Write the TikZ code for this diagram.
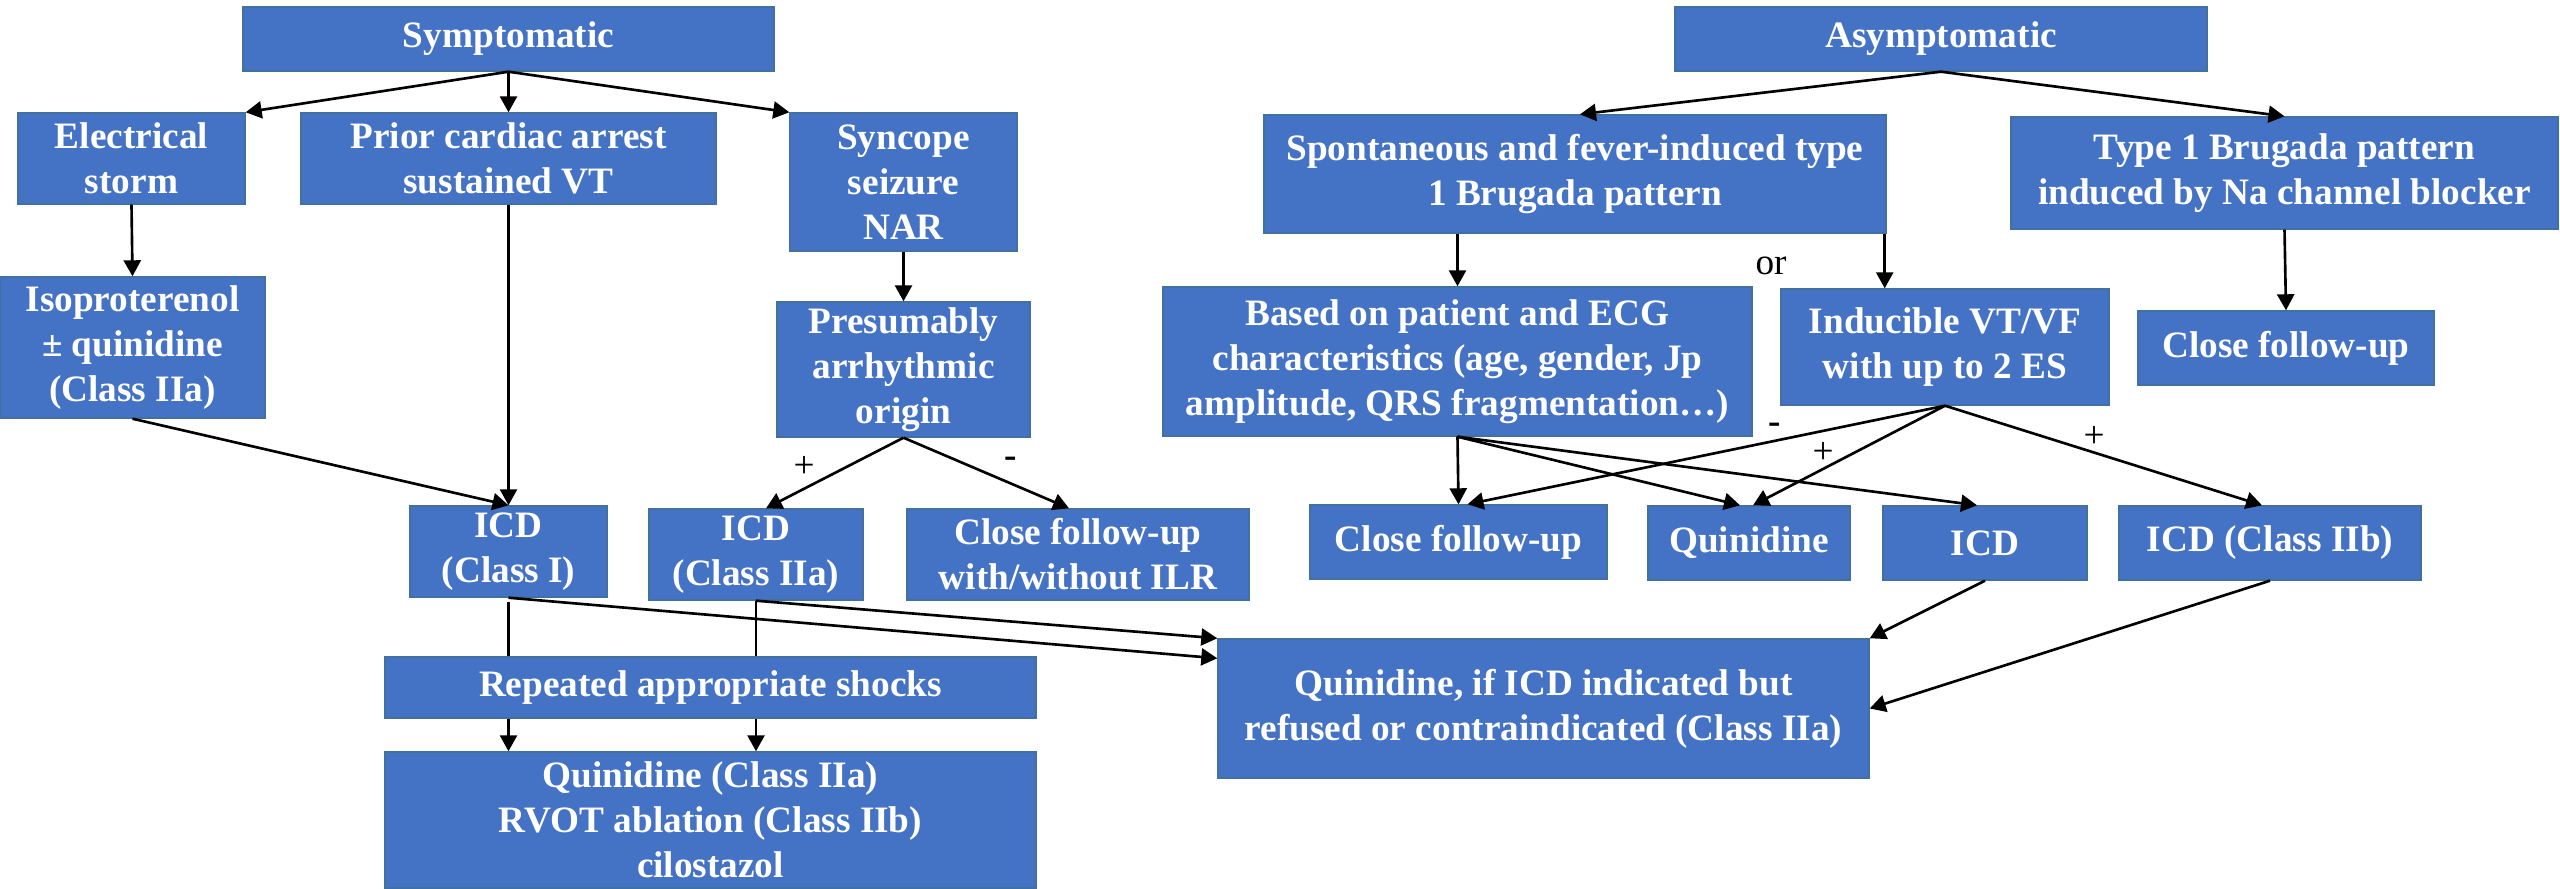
\documentclass[tikz,border=0pt]{standalone}
\usepackage{fontspec}
\setmainfont{Liberation Serif}
\usetikzlibrary{arrows.meta}
\definecolor{boxblue}{HTML}{4472C4}
\definecolor{boxline}{HTML}{41719C}
\begin{document}
\begin{tikzpicture}[
  box/.style={rectangle, fill=boxblue, draw=boxline, line width=0.4pt, text=white,
    font=\bfseries\fontsize{10.6}{12.8}\selectfont, align=center, inner sep=0pt},
  arr/.style={-{Triangle[length=0.16cm,width=0.17cm]}, line width=0.75pt, black},
  ln/.style={line width=0.75pt, black},
  lbl/.style={font=\fontsize{10.6}{12.8}\selectfont, inner sep=0pt, text=black}
]
\useasboundingbox (0,0) rectangle (25.6,-8.89);

% ---------------- Symptomatic side ----------------
\node[box, minimum width=5.31cm, minimum height=0.64cm] (sym) at (5.085,-0.39) {Symptomatic};
\node[box, minimum width=2.27cm, minimum height=0.91cm] (es) at (1.315,-1.585) {Electrical\\storm};
\node[box, minimum width=4.15cm, minimum height=0.91cm] (pca) at (5.085,-1.585) {Prior cardiac arrest\\sustained VT};
\node[box, minimum width=2.27cm, minimum height=1.38cm] (syn) at (9.035,-1.82) {Syncope\\seizure\\NAR};
\node[box, minimum width=2.65cm, minimum height=1.41cm] (iso) at (1.325,-3.475) {Isoproterenol\\± quinidine\\(Class IIa)};
\node[box, minimum width=2.53cm, minimum height=1.35cm] (pres) at (9.035,-3.695) {Presumably\\arrhythmic\\origin};
\node[box, minimum width=1.97cm, minimum height=0.91cm] (icd1) at (5.085,-5.515) {ICD\\(Class I)};
\node[box, minimum width=2.14cm, minimum height=0.91cm] (icd2a) at (7.56,-5.545) {ICD\\(Class IIa)};
\node[box, minimum width=3.42cm, minimum height=0.91cm] (cfu1) at (10.78,-5.545) {Close follow-up\\with/without ILR};
\node[box, minimum width=6.51cm, minimum height=0.61cm] (rep) at (7.105,-6.875) {Repeated appropriate shocks};
\node[box, minimum width=6.51cm, minimum height=1.36cm] (qbot) at (7.105,-8.2) {Quinidine (Class IIa)\\RVOT ablation (Class IIb)\\cilostazol};

% ---------------- Asymptomatic side ----------------
\node[box, minimum width=5.32cm, minimum height=0.64cm] (asym) at (19.41,-0.39) {Asymptomatic};
\node[box, minimum width=6.22cm, minimum height=1.18cm] (spon) at (15.75,-1.74) {Spontaneous and fever-induced type\\1 Brugada pattern};
\node[box, minimum width=5.47cm, minimum height=1.12cm] (typ1) at (22.845,-1.73) {Type 1 Brugada pattern\\induced by Na channel blocker};
\node[box, minimum width=5.89cm, minimum height=1.49cm] (based) at (14.575,-3.615) {Based on patient and ECG\\characteristics (age, gender, Jp\\amplitude, QRS fragmentation\ldots)};
\node[box, minimum width=3.28cm, minimum height=1.16cm] (indu) at (19.45,-3.47) {Inducible VT/VF\\with up to 2 ES};
\node[box, minimum width=2.96cm, minimum height=0.74cm] (cfu3) at (22.86,-3.48) {Close follow-up};
\node[box, minimum width=2.97cm, minimum height=0.74cm] (cfu2) at (14.585,-5.42) {Close follow-up};
\node[box, minimum width=2.02cm, minimum height=0.74cm] (quin) at (17.49,-5.43) {Quinidine};
\node[box, minimum width=2.04cm, minimum height=0.74cm] (icd) at (19.85,-5.43) {ICD};
\node[box, minimum width=3.02cm, minimum height=0.74cm] (icd2b) at (22.70,-5.43) {ICD (Class IIb)};
\node[box, minimum width=6.51cm, minimum height=1.39cm] (qif) at (15.435,-7.085) {Quinidine, if ICD indicated but\\refused or contraindicated (Class IIa)};

% ---------------- Labels ----------------
\node[lbl] (orlbl) at (17.71,-2.66) {or};
\node[lbl] (p1) at (8.04,-4.67) {+};
\node[lbl, font=\bfseries\fontsize{10.6}{12.8}\selectfont] (m1) at (10.11,-4.62) {-};
\node[lbl, font=\bfseries\fontsize{10.6}{12.8}\selectfont] (m2) at (17.75,-4.28) {-};
\node[lbl] (p2) at (18.23,-4.53) {+};
\node[lbl] (p3) at (20.94,-4.37) {+};

% ---------------- Connectors: symptomatic ----------------
\draw[arr] (sym.south) -- (es.north east);
\draw[arr] (sym.south) -- (pca.north);
\draw[arr] (sym.south) -- (syn.north west);
\draw[arr] (es.south) -- (iso.north);
\draw[arr] (pca.south) -- (icd1.north);
\draw[arr] (iso.south) -- (icd1.north);
\draw[arr] (syn.south) -- (pres.north);
\draw[arr] (pres.south) -- ([xshift=0.1cm]icd2a.north);
\draw[arr] (pres.south) -- ([xshift=-0.09cm]cfu1.north);
\draw[ln] ([yshift=-0.04cm]icd1.south) -- (icd1.south |- rep.north);
\draw[ln] (icd2a.south) -- (icd2a.south |- rep.north);
\draw[arr] (rep.south -| icd1.south) -- (qbot.north -| icd1.south);
\draw[arr] (rep.south -| icd2a.south) -- (qbot.north -| icd2a.south);
\draw[arr] (icd1.south) -- ([yshift=-0.2cm]qif.north west);
\draw[arr] (icd2a.south) -- (qif.north west);

% ---------------- Connectors: asymptomatic ----------------
\draw[arr] (asym.south) -- ([xshift=0.05cm]spon.north);
\draw[arr] (asym.south) -- (typ1.north);
\draw[arr] (spon.south -| based.north) -- (based.north);
\draw[arr] ([xshift=-0.02cm]spon.south east) -- ([xshift=-0.02cm]spon.south east |- indu.north);
\draw[arr] (typ1.south) -- (cfu3.north);
\draw[arr] (based.south) -- (cfu2.north);
\draw[arr] (based.south) -- ([xshift=-0.09cm]quin.north);
\draw[arr] (based.south) -- ([xshift=-0.08cm]icd.north);
\draw[arr] (indu.south) -- ([xshift=0.09cm]cfu2.north);
\draw[arr] (indu.south) -- ([xshift=0.04cm]quin.north);
\draw[arr] (indu.south) -- ([xshift=-0.08cm]icd2b.north);
\draw[arr] (icd.south) -- (qif.north east);
\draw[arr] (icd2b.south) -- (qif.east);
\end{tikzpicture}
\end{document}
